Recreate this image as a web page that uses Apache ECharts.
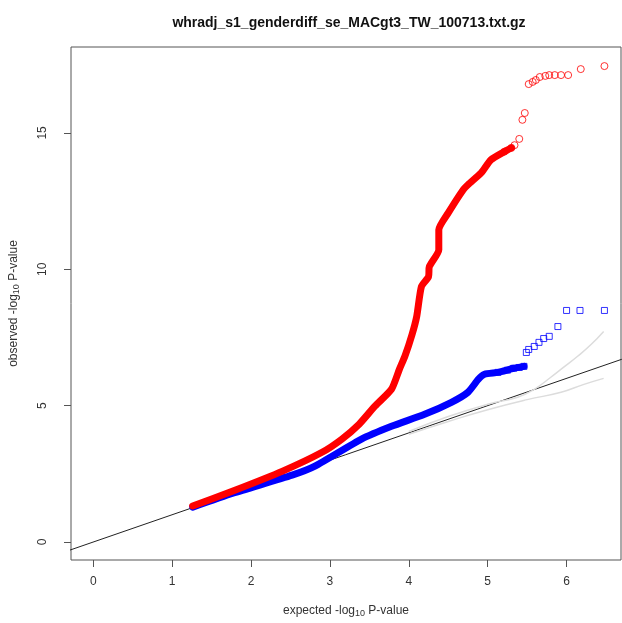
<!DOCTYPE html>
<html style="height: 100%">
<head>
    <meta charset="utf-8">
    <title>QQ plot</title>
    <script type="text/javascript" src="https://cdn.jsdelivr.net/npm/echarts@6/dist/echarts.min.js"></script>
</head>
<body style="width: 100%;margin: 0;height: 100%;background: #fff">
<div id="container" style="width: 622px;height: 623px"></div>
<script type="application/javascript">

    // red series, dense part (drawn as a thick band)
    var redX = [1.26, 1.77, 2.40, 2.90, 3.15, 3.37, 3.57, 3.78, 3.88, 3.95, 4.04, 4.10, 4.16, 4.25, 4.26, 4.38, 4.38, 4.50, 4.69, 4.75, 4.92, 5.04, 5.21, 5.30];
    var redY = [1.32, 1.87, 2.60, 3.29, 3.77, 4.32, 4.98, 5.60, 6.33, 6.81, 7.60, 8.27, 9.37, 9.73, 10.10, 10.72, 11.45, 12.07, 12.92, 13.10, 13.54, 14.01, 14.31, 14.45];
    // red series, sparse tail points
    var redTailX = [5.21, 5.30, 5.34, 5.40, 5.44, 5.47, 5.52, 5.57, 5.61, 5.66, 5.73, 5.78, 5.85, 5.93, 6.02, 6.18, 6.48];
    var redTailY = [14.31, 14.45, 14.55, 14.78, 15.48, 15.73, 16.79, 16.87, 16.94, 17.05, 17.09, 17.12, 17.12, 17.12, 17.12, 17.34, 17.45];

    // blue series, dense part
    var blueX = [1.26, 1.77, 2.52, 2.81, 3.40, 3.78, 4.20, 4.54, 4.75, 4.88, 4.96, 5.13, 5.33, 5.46];
    var blueY = [1.28, 1.79, 2.45, 2.78, 3.77, 4.24, 4.68, 5.12, 5.49, 5.96, 6.15, 6.22, 6.37, 6.44];
    // blue series, sparse tail points
    var blueTailX = [5.13, 5.25, 5.33, 5.40, 5.46, 5.49, 5.52, 5.59, 5.65, 5.71, 5.78, 5.89, 6.00, 6.17, 6.48];
    var blueTailY = [6.22, 6.30, 6.37, 6.40, 6.44, 6.95, 7.06, 7.17, 7.32, 7.46, 7.54, 7.90, 8.49, 8.49, 8.49];

    // expected line and confidence curves
    var diagX = [-0.3, 6.7];
    var diagY = [-0.3, 6.7];
    var upperX = [4.0, 4.5, 5.0, 5.38, 5.59, 5.80, 5.96, 6.14, 6.31, 6.47];
    var upperY = [4.05, 4.60, 5.05, 5.31, 5.60, 6.04, 6.40, 6.81, 7.24, 7.72];
    var lowerX = [4.0, 4.5, 5.0, 5.50, 5.93, 6.22, 6.47];
    var lowerY = [3.95, 4.42, 4.85, 5.22, 5.49, 5.78, 6.00];

    var xTicks = [0, 1, 2, 3, 4, 5, 6];
    var yTicks = [0, 5, 10, 15];

    function pairs(xs, ys) {
        var out = [];
        for (var i = 0; i < xs.length; i++) {
            out.push([xs[i], ys[i]]);
        }
        return out;
    }

    var font = 'Liberation Sans, Arial, sans-serif';
    var nameStyle = {
        fontFamily: font, fontSize: 12, color: '#333',
        rich: {sub: {fontFamily: font, fontSize: 9, color: '#333', padding: [5, 0, 0, 0]}}
    };

    var dom = document.getElementById("container");
    var myChart = echarts.init(dom, null, {renderer: 'canvas'});

    var option = {
        animation: false,
        backgroundColor: '#ffffff',
        title: {
            text: 'whradj_s1_genderdiff_se_MACgt3_TW_100713.txt.gz',
            left: 344,
            textAlign: 'center',
            top: 11,
            textStyle: {fontFamily: font, fontSize: 14, fontWeight: 'bold', color: '#111'}
        },
        grid: {
            left: 67,
            top: 47,
            right: 1,
            bottom: 62,
            show: true,
            borderColor: '#555',
            borderWidth: 1
        },
        xAxis: {
            type: 'value',
            min: -0.283,
            max: 6.69,
            splitLine: {show: false},
            axisLine: {show: false, onZero: false},
            axisTick: {show: true, inside: false, length: 7, customValues: xTicks, lineStyle: {color: '#555'}},
            axisLabel: {customValues: xTicks, margin: 16, fontFamily: font, fontSize: 12, color: '#333'},
            name: 'expected -log{sub|10} P-value',
            nameLocation: 'middle',
            nameGap: 44,
            nameTextStyle: nameStyle
        },
        yAxis: {
            type: 'value',
            min: -0.66,
            max: 18.15,
            splitLine: {show: false},
            axisLine: {show: false, onZero: false},
            axisTick: {show: true, inside: false, length: 7, customValues: yTicks, lineStyle: {color: '#555'}},
            axisLabel: {customValues: yTicks, rotate: 90, margin: 22, fontFamily: font, fontSize: 12, color: '#333'},
            name: 'observed -log{sub|10} P-value',
            nameLocation: 'middle',
            nameGap: 50,
            nameTextStyle: nameStyle
        },
        series: [
            {
                type: 'line', data: pairs(diagX, diagY), symbol: 'none', silent: true,
                lineStyle: {color: '#222', width: 1}
            },
            {
                type: 'line', data: pairs(upperX, upperY), symbol: 'none', smooth: true, silent: true,
                lineStyle: {color: '#dcdcdc', width: 1.5}
            },
            {
                type: 'line', data: pairs(lowerX, lowerY), symbol: 'none', smooth: true, silent: true,
                lineStyle: {color: '#dcdcdc', width: 1.5}
            },
            {
                type: 'line', data: pairs(blueX, blueY), symbol: 'none', smooth: 0.2,
                lineStyle: {color: '#0000ff', width: 7, cap: 'round', join: 'round'}
            },
            {
                type: 'scatter', data: pairs(blueTailX, blueTailY), symbol: 'rect', symbolSize: 6,
                itemStyle: {color: 'rgba(255,255,255,0)', borderColor: '#0000ff', borderWidth: 1}
            },
            {
                type: 'line', data: pairs(redX, redY), symbol: 'none', smooth: 0.2,
                lineStyle: {color: '#ff0000', width: 7, cap: 'round', join: 'round'}
            },
            {
                type: 'scatter', data: pairs(redTailX, redTailY), symbol: 'circle', symbolSize: 7,
                itemStyle: {color: 'rgba(255,255,255,0)', borderColor: '#ff0000', borderWidth: 1}
            }
        ]
    };

    myChart.setOption(option);
</script>
</body>
</html>
